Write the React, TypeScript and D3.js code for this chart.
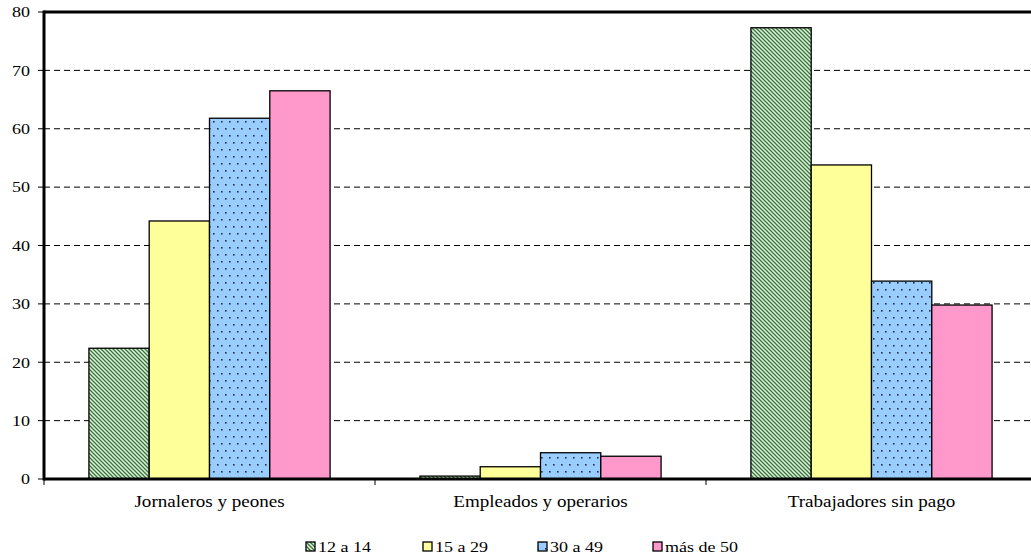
import React from "react";
import * as d3 from "d3";

const categories = ["Jornaleros y peones", "Empleados y operarios", "Trabajadores sin pago"];
const seriesNames = ["12 a 14", "15 a 29", "30 a 49", "más de 50"];
const s1214 = [22.4, 0.5, 77.3];
const s1529 = [44.2, 2.1, 53.8];
const s3049 = [61.8, 4.5, 33.9];
const s50 = [66.5, 3.9, 29.8];
const yTicks = [0, 10, 20, 30, 40, 50, 60, 70, 80];

const seriesValues = [s1214, s1529, s3049, s50];
const fills = ["url(#pGreen)", "#ffff99", "url(#pBlue)", "#ff99cc"];
const legendX = [306, 423, 538, 653];

export default function App() {
  const W = 1031, H = 560;
  const left = 44, right = 1037, top = 12, bottom = 479;
  const x = d3.scaleBand<string>().domain(categories).range([left, right]).padding(0);
  const xs = d3.scaleBand<string>().domain(seriesNames).range([0, x.bandwidth()]).paddingInner(0).paddingOuter(0.745);
  const y = d3.scaleLinear().domain([0, 80]).range([bottom, top]);
  const font = "'Liberation Serif', 'Times New Roman', serif";

  return (
    <svg width={W} height={H} style={{ position: "absolute", left: 0, top: 0, background: "#fff" }}>
      <defs>
        <pattern id="pGreen" patternUnits="userSpaceOnUse" width="4" height="4">
          <rect width="4" height="4" fill="#ccffcc" />
          <path d="M-1,-1 L5,5 M-1,3 L1,5 M3,-1 L5,1" stroke="#4d664d" strokeWidth="1.3" />
        </pattern>
        <pattern id="pBlue" patternUnits="userSpaceOnUse" width="8" height="14">
          <rect width="8" height="14" fill="#99ccff" />
          <rect x="1" y="2" width="1.6" height="1.6" fill="#223344" />
          <rect x="5" y="9" width="1.6" height="1.6" fill="#223344" />
        </pattern>
      </defs>
      {yTicks.filter(t => t > 0 && t < 80).map(t => (
        <line key={"g" + t} x1={left} x2={right} y1={y(t)} y2={y(t)} stroke="#000" strokeWidth={1} strokeDasharray="6,4" />
      ))}
      {seriesValues.map((vals, si) =>
        vals.map((v, ci) => (
          <rect key={si + "-" + ci}
            x={(x(categories[ci]) as number) + (xs(seriesNames[si]) as number)}
            y={y(v)} width={xs.bandwidth()} height={bottom - y(v)}
            fill={fills[si]} stroke="#000" strokeWidth={1.3} />
        ))
      )}
      <line x1={left} x2={right + 5} y1={top} y2={top} stroke="#000" strokeWidth={3} />
      <line x1={left} x2={left} y1={top - 1.5} y2={bottom + 1.5} stroke="#000" strokeWidth={3} />
      <line x1={left} x2={right + 5} y1={bottom} y2={bottom} stroke="#000" strokeWidth={3} />
      {yTicks.map(t => (
        <g key={"t" + t}>
          <line x1={left - 6} x2={left} y1={y(t)} y2={y(t)} stroke="#000" strokeWidth={1} />
          <text transform={`translate(30,${y(t)}) scale(1.2,1)`} dy="0.35em" textAnchor="end" fontFamily={font} fontSize={15}>{t}</text>
        </g>
      ))}
      {categories.map(c => (
        <line key={"xt" + c} x1={x(c) as number} x2={x(c) as number} y1={bottom} y2={bottom + 6} stroke="#000" strokeWidth={1} />
      ))}
      {categories.map(c => (
        <text key={"xl" + c} transform={`translate(${(x(c) as number) + x.bandwidth() / 2},507) scale(1.19,1)`} textAnchor="middle" fontFamily={font} fontSize={16}>{c}</text>
      ))}
      {seriesNames.map((s, i) => (
        <g key={"lg" + s}>
          <rect x={legendX[i]} y={542} width={9} height={9} fill={fills[i]} stroke="#000" strokeWidth={1.3} />
          <text transform={`translate(${legendX[i] + 12},552) scale(1.2,1)`} fontFamily={font} fontSize={15}>{s}</text>
        </g>
      ))}
    </svg>
  );
}
